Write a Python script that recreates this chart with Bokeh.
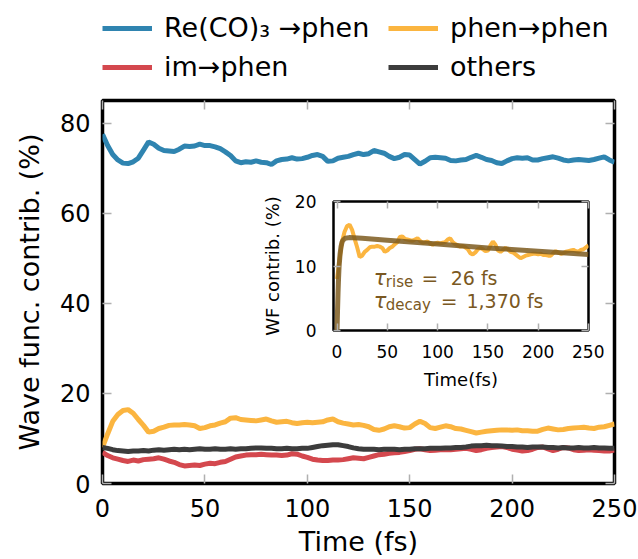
import numpy as np
from bokeh.plotting import figure
from bokeh.models import (Range1d, LinearAxis, FixedTicker, Legend, LegendItem,
                          Label, GridBox)
from bokeh.embed import file_html
from bokeh.resources import INLINE

# ---------------- data ----------------
time_fs = np.arange(0, 250.01, 2.5)

re_co3_phen = [77.5, 75.0, 73.0, 71.8, 71.1, 71.0, 71.4, 72.2, 74.0, 75.8,
               75.3, 74.4, 73.9, 73.8, 73.7, 74.2, 74.9, 74.8, 74.9, 75.3,
               75.0, 75.0, 74.7, 74.3, 73.6, 72.8, 71.6, 71.2, 71.4, 71.3,
               71.6, 71.3, 71.2, 70.8, 71.6, 71.9, 72.0, 72.3, 72.0, 72.1,
               72.4, 72.8, 73.0, 72.6, 71.5, 71.6, 72.2, 72.4, 72.6, 73.0,
               73.3, 73.0, 73.2, 73.9, 73.6, 73.3, 72.6, 72.1, 72.4, 73.0,
               72.9, 71.9, 70.9, 71.5, 72.3, 72.4, 72.3, 72.2, 71.7, 71.6,
               71.8, 71.9, 72.4, 72.8, 72.4, 71.9, 71.7, 71.2, 71.0, 71.6,
               72.1, 72.3, 72.2, 72.3, 71.8, 71.8, 72.1, 72.3, 72.5, 72.2,
               71.8, 71.6, 71.8, 71.9, 71.8, 71.7, 71.9, 72.2, 72.5, 71.8,
               71.3]

phen_phen = [8.0, 11.0, 13.8, 15.3, 16.2, 16.4, 15.6, 14.2, 12.9, 11.4,
             11.6, 12.2, 12.5, 12.9, 13.0, 13.0, 13.1, 13.0, 12.8, 12.2,
             12.4, 12.8, 13.0, 13.4, 13.7, 14.5, 14.6, 14.2, 14.1, 14.0,
             13.9, 14.1, 14.3, 13.9, 13.6, 13.7, 13.8, 13.5, 13.3, 13.5,
             13.6, 13.5, 13.6, 13.7, 14.1, 14.3, 13.7, 13.4, 13.2, 13.0,
             13.1, 12.9, 12.6, 12.0, 11.8, 12.1, 12.6, 12.8, 12.6, 12.3,
             12.4, 13.2, 13.8, 13.3, 12.4, 12.2, 12.5, 12.8, 12.6, 12.2,
             12.1, 11.8, 11.5, 11.2, 11.4, 11.6, 11.7, 11.8, 11.9, 11.9,
             11.8, 11.9, 11.7, 11.7, 11.6, 11.6, 12.0, 12.3, 12.1, 11.9,
             12.0, 12.2, 12.3, 12.4, 12.5, 12.3, 12.2, 12.5, 12.6, 12.9,
             13.2]

im_phen = [6.9, 6.2, 5.7, 5.4, 5.1, 4.9, 5.2, 5.0, 5.3, 5.4,
           5.5, 5.7, 5.4, 5.0, 4.7, 4.2, 3.9, 4.0, 4.1, 4.0,
           4.3, 4.5, 4.4, 4.7, 4.9, 5.4, 5.9, 6.1, 6.3, 6.4,
           6.4, 6.5, 6.4, 6.3, 6.3, 6.2, 6.3, 6.6, 6.5, 6.1,
           5.8, 5.4, 5.2, 5.1, 5.1, 5.2, 5.2, 5.3, 5.5, 5.7,
           5.6, 5.5, 5.8, 6.1, 6.4, 6.5, 6.7, 6.8, 6.9, 7.1,
           7.3, 7.6, 7.7, 7.5, 7.3, 7.4, 7.5, 7.5, 7.5, 7.6,
           7.7, 7.8, 7.6, 7.3, 7.5, 7.8, 8.0, 8.1, 8.2, 8.0,
           7.6, 7.4, 7.2, 7.3, 7.6, 8.0, 8.1, 7.7, 7.3, 7.6,
           8.0, 7.9, 7.5, 7.3, 7.4, 7.5, 7.4, 7.3, 7.2, 7.2,
           7.4]

others = [8.0, 7.8, 7.5, 7.3, 7.2, 7.1, 7.2, 7.2, 7.3, 7.2,
          7.4, 7.5, 7.4, 7.5, 7.6, 7.5, 7.6, 7.5, 7.6, 7.7,
          7.6, 7.6, 7.7, 7.6, 7.6, 7.7, 7.6, 7.7, 7.7, 7.8,
          7.9, 7.9, 7.8, 7.8, 7.7, 7.7, 7.8, 7.7, 7.7, 7.8,
          7.8, 8.0, 8.2, 8.4, 8.5, 8.6, 8.6, 8.4, 8.2, 7.9,
          7.7, 7.6, 7.6, 7.6, 7.5, 7.6, 7.6, 7.6, 7.5, 7.6,
          7.6, 7.7, 7.7, 7.7, 7.8, 7.8, 7.8, 7.9, 7.9, 8.0,
          8.0, 8.1, 8.3, 8.4, 8.4, 8.5, 8.4, 8.4, 8.3, 8.2,
          8.2, 8.1, 8.1, 8.0, 8.1, 8.1, 8.1, 8.0, 8.0, 7.9,
          8.0, 7.9, 7.9, 8.0, 7.9, 7.9, 8.0, 7.9, 7.9, 7.8,
          7.8]

fit_time = [0, 0.5, 1, 1.5, 2, 3, 4, 5, 6, 8, 12, 25, 50, 100, 150, 200, 250]
fit_value = [0, 3.0, 5.8, 8.0, 9.8, 11.8, 13.0, 13.7, 14.0, 14.3, 14.4, 14.3,
             14.0, 13.4, 12.8, 12.3, 11.8]

main_xticks = [0, 50, 100, 150, 200, 250]
main_yticks = [0, 20, 40, 60, 80]
inset_xticks = [0, 50, 100, 150, 200, 250]
inset_yticks = [0, 10, 20]

legend_labels = ["Re(CO)\u2083 \u2192phen", "phen\u2192phen", "im\u2192phen", "others"]

# ---------------- style ----------------
FONT = "DejaVu Sans"
BLUE = "#2f84b0"
ORANGE = "#fbb540"
RED = "#d4484e"
DARK = "#3c3c3c"
BROWN = "#7d5a1e"
TXT_BROWN = "#7a5822"
TICK = "#b0b0b0"

series_list = [re_co3_phen, phen_phen, im_phen, others]
color_list = [BLUE, ORANGE, RED, DARK]


def style_axis(ax, ticks, size, label_size, show_labels=True):
    ax.ticker = FixedTicker(ticks=ticks)
    ax.axis_line_color = None
    ax.major_tick_line_color = TICK
    ax.major_tick_line_width = 1.5
    ax.major_tick_in = 9
    ax.major_tick_out = 0
    ax.minor_tick_line_color = None
    ax.major_label_text_font = FONT
    ax.major_label_text_font_size = size
    ax.major_label_text_color = "black"
    ax.axis_label_text_font = FONT
    ax.axis_label_text_font_size = label_size
    ax.axis_label_text_font_style = "normal"
    ax.axis_label_text_color = "black"
    if not show_labels:
        ax.major_label_overrides = {t: "" for t in ticks}
        ax.major_label_text_font_size = "1px"
        ax.major_label_standoff = 0


# ---------------- legend strip (its own canvas, above the main plot) ----------------
# its y-range lies far above the data, so its copies of the lines stay out of view
lg = figure(width=638, height=97, x_range=Range1d(0, 250), y_range=Range1d(500, 501),
            output_backend="svg", toolbar_location=None,
            x_axis_type=None, y_axis_type=None,
            min_border_left=0, min_border_right=0,
            min_border_top=0, min_border_bottom=0)
lg.xgrid.visible = False
lg.ygrid.visible = False
lg.outline_line_color = None
lg.background_fill_color = "white"
lg.border_fill_color = "white"

proxies = [lg.line(time_fs, s, line_color=c, line_width=5)
           for s, c in zip(series_list, color_list)]


def make_legend(items, loc):
    leg = Legend(items=items, location=loc, orientation="vertical")
    leg.label_text_font = FONT
    leg.label_text_font_size = "27px"
    leg.label_text_color = "black"
    leg.glyph_width = 50
    leg.glyph_height = 30
    leg.label_height = 30
    leg.label_standoff = 12
    leg.spacing = 8
    leg.padding = 0
    leg.margin = 0
    leg.border_line_color = None
    leg.background_fill_alpha = 0
    lg.add_layout(leg, "center")


make_legend([LegendItem(label=legend_labels[0], renderers=[proxies[0]]),
             LegendItem(label=legend_labels[2], renderers=[proxies[2]])], (0, 15))
make_legend([LegendItem(label=legend_labels[1], renderers=[proxies[1]]),
             LegendItem(label=legend_labels[3], renderers=[proxies[3]])], (286, 15))

# ---------------- main figure ----------------
p = figure(width=638, height=462, x_range=Range1d(0, 250), y_range=Range1d(0, 85),
           output_backend="svg", toolbar_location=None,
           min_border_left=102, min_border_right=24, min_border_top=3,
           min_border_bottom=76)
p.xgrid.visible = False
p.ygrid.visible = False
p.outline_line_color = "black"
p.outline_line_width = 3.5
p.background_fill_color = "white"
p.border_fill_color = "white"

style_axis(p.xaxis[0], main_xticks, "24px", "27px")
style_axis(p.yaxis[0], main_yticks, "24px", "27px")
p.xaxis[0].axis_label = "Time (fs)"
p.yaxis[0].axis_label = "Wave func. contrib. (%)"
p.xaxis[0].major_label_standoff = 15
p.xaxis[0].axis_label_standoff = 6
p.yaxis[0].major_label_standoff = 12
p.yaxis[0].axis_label_standoff = 12

top_ax = LinearAxis()
style_axis(top_ax, main_xticks, "24px", "27px", show_labels=False)
p.add_layout(top_ax, "above")
right_ax = LinearAxis()
style_axis(right_ax, main_yticks, "24px", "27px", show_labels=False)
p.add_layout(right_ax, "right")

for series, color in zip(series_list, color_list):
    p.line(time_fs, series, line_color=color, line_width=5)

# ---------------- inset ----------------
ins = figure(width=346, height=203, x_range=Range1d(-3.5, 250), y_range=Range1d(0, 20),
             output_backend="svg", toolbar_location=None,
             min_border_left=74, min_border_right=16, min_border_top=12,
             min_border_bottom=62)
ins.xgrid.visible = False
ins.ygrid.visible = False
ins.outline_line_color = "black"
ins.outline_line_width = 2.5
ins.background_fill_color = "white"
ins.border_fill_color = None

style_axis(ins.xaxis[0], inset_xticks, "17px", "18px")
style_axis(ins.yaxis[0], inset_yticks, "17px", "18px")
ins.xaxis[0].axis_label = "Time(fs)"
ins.yaxis[0].axis_label = "WF contrib. (%)"
ins.xaxis[0].major_label_standoff = 14
ins.xaxis[0].axis_label_standoff = 8
ins.yaxis[0].major_label_standoff = 17
ins.yaxis[0].axis_label_standoff = 9
ins.xaxis[0].major_tick_in = 7
ins.yaxis[0].major_tick_in = 7

itop = LinearAxis()
style_axis(itop, inset_xticks, "17px", "18px", show_labels=False)
itop.major_tick_in = 7
ins.add_layout(itop, "above")
iright = LinearAxis()
style_axis(iright, inset_yticks, "17px", "18px", show_labels=False)
iright.major_tick_in = 7
ins.add_layout(iright, "right")

ins.line(time_fs, phen_phen, line_color=ORANGE, line_width=4)
ins.line(fit_time, fit_value, line_color=BROWN, line_width=5, line_alpha=0.85)


def lab(x, y, text, size, italic=False):
    ins.add_layout(Label(x=x, y=y, text=text, text_font=FONT, text_font_size=size,
                         text_color=TXT_BROWN, text_baseline="alphabetic",
                         text_font_style="italic" if italic else "normal"))


lab(36.6, 8.2, "\u03c4", "21px", italic=True)
lab(48.5, 7.5, "rise", "15px")
lab(84.0, 8.2, "=", "20px")
lab(113.0, 8.2, "26 fs", "19px")
lab(36.6, 4.6, "\u03c4", "21px", italic=True)
lab(48.5, 3.9, "decay", "15px")
lab(103.0, 4.6, "=", "20px")
lab(128.7, 4.6, "1,370 fs", "19px")

grid = GridBox(children=[(lg, 0, 0, 1, 3), (p, 1, 0, 3, 3), (ins, 2, 1, 1, 1)],
               cols=["258px", "346px", "34px"],
               rows=["97px", "92px", "203px", "167px"])

open("out.html", "w").write(file_html(grid, INLINE))
